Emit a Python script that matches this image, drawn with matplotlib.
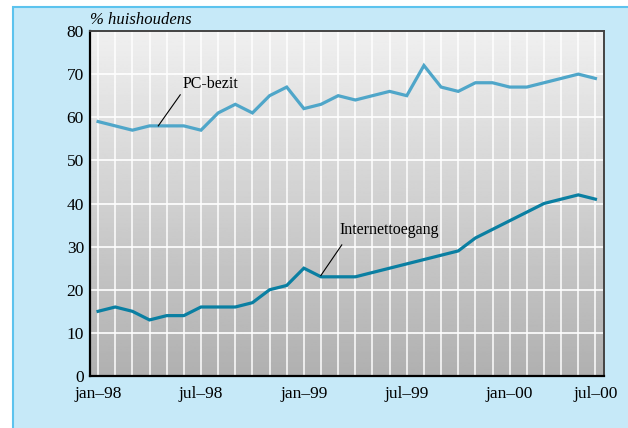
import matplotlib
matplotlib.use('Agg')
import matplotlib.pyplot as plt
from matplotlib.patches import Rectangle
import numpy as np

# monthly values, jan-98 onwards
pc_bezit = [59, 58, 57, 58, 58, 58, 57, 61, 63, 61, 65, 67, 62, 63, 65,
            64, 65, 66, 65, 72, 67, 66, 68, 68, 67, 67, 68, 69, 70, 69]
internet = [15, 16, 15, 13, 14, 14, 16, 16, 16, 17, 20, 21, 25, 23, 23,
            23, 24, 25, 26, 27, 28, 29, 32, 34, 36, 38, 40, 41, 42, 41]
tick_pos = [0, 6, 12, 18, 24, 29]
tick_labels = ['jan–98', 'jul–98', 'jan–99', 'jul–99', 'jan–00', 'jul–00']
y_ticks = [0, 10, 20, 30, 40, 50, 60, 70, 80]

plt.rcParams['font.family'] = ['Liberation Serif', 'DejaVu Serif']

fig = plt.figure(figsize=(6.28, 4.28), dpi=100, facecolor='white')

# light blue panel behind everything
panel = Rectangle((13 / 628, -0.01), 1.0, (428 - 7) / 428 + 0.01,
                  transform=fig.transFigure, facecolor='#c6e9f8',
                  edgecolor='#5cc3ee', linewidth=1.5, zorder=-10)
fig.patches.append(panel)

ax = fig.add_axes([89.5 / 628, 52 / 428, (604 - 89.5) / 628, (376 - 31) / 428])
ax.set_zorder(5)
months = np.arange(len(pc_bezit))

# grey gradient in the plot area
grad = np.linspace(0.94, 0.69, 256).reshape(-1, 1)
ax.imshow(grad, cmap='gray', vmin=0, vmax=1, aspect='auto',
          extent=(-0.5, 29.5, 0, 80), zorder=0, origin='upper')
ax.set_xlim(-0.5, 29.5)
ax.set_ylim(0, 80)

for m in months:
    ax.axvline(m, color='white', lw=1.2, alpha=0.9, zorder=1)
for y in y_ticks[1:-1]:
    ax.axhline(y, color='white', lw=1.2, zorder=1)

ax.plot(months, pc_bezit, color='#4fa6c9', lw=2.3, zorder=3, solid_joinstyle='miter')
ax.plot(months, internet, color='#0a7fa2', lw=2.3, zorder=3, solid_joinstyle='miter')

ax.plot([4.79, 3.51], [65.2, 58.0], color='black', lw=0.8, zorder=4)
ax.text(4.92, 67.7, 'PC-bezit', fontsize=11.5, va='center', ha='left', zorder=5)
ax.plot([14.21, 12.99], [30.4, 23.3], color='black', lw=0.8, zorder=4)
ax.text(14.1, 33.9, 'Internettoegang', fontsize=11.5, va='center', ha='left', zorder=5)

ax.set_xticks(tick_pos)
ax.set_xticklabels(tick_labels)
ax.set_yticks(y_ticks)
ax.tick_params(length=0, labelsize=12.5)
ax.tick_params(axis='x', pad=7)
ax.tick_params(axis='y', pad=4)

for side in ['left', 'bottom']:
    ax.spines[side].set_color('black')
    ax.spines[side].set_linewidth(1.6)
for side in ['top', 'right']:
    ax.spines[side].set_color('#444444')
    ax.spines[side].set_linewidth(1.4)

fig.text(90 / 628, 1 - 20 / 428, '% huishoudens', fontsize=12,
         style='italic', va='center', ha='left')

fig.savefig('out.png', dpi=100)
